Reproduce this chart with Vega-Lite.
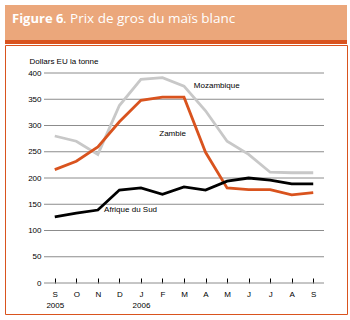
{
  "$schema": "https://vega.github.io/schema/vega-lite/v6.json",
  "padding": {"left": 4, "top": 5, "right": 4, "bottom": 7},
  "background": "white",
  "spacing": 0,
  "config": {"view": {"stroke": null}, "concat": {"spacing": 0}},
  "vconcat": [
    {
      "spacing": 0,
      "bounds": "flush",
      "hconcat": [
        {
          "width": 58, "height": 35,
          "view": {"fill": "#EBA77B", "stroke": null},
          "title": {"text": "Figure 6", "font": "Open Sans", "fontWeight": "bold", "fontSize": 13, "color": "white", "anchor": "start", "baseline": "alphabetic", "offset": -31, "dx": 7},
          "data": {"values": []},
          "mark": "rule",
          "encoding": {}
        },
        {
          "width": 284, "height": 35,
          "view": {"fill": "#EBA77B", "stroke": null},
          "title": {"text": ". Prix de gros du maïs blanc", "font": "Open Sans", "fontWeight": "normal", "fontSize": 13.5, "color": "white", "anchor": "start", "baseline": "alphabetic", "offset": -31, "dx": 0},
          "data": {"values": []},
          "mark": "rule",
          "encoding": {}
        }
      ]
    },
    {
      "width": 342, "height": 4,
      "view": {"fill": "#D9531E", "stroke": null},
      "data": {"values": []},
      "mark": "rule",
      "encoding": {}
    },
    {
      "width": 342, "height": 269,
      "view": {"stroke": "#D9531E", "strokeWidth": 1},
      "layer": [
        {
          "data": {"values": [{"g": 0}, {"g": 50}, {"g": 100}, {"g": 150}, {"g": 200}, {"g": 250}, {"g": 300}, {"g": 350}, {"g": 400}]},
          "mark": {"type": "rule", "color": "#8c8c8c", "strokeWidth": 1},
          "encoding": {
            "y": {"field": "g", "type": "quantitative", "scale": {"domain": [0, 400], "range": [238, 28], "nice": false, "zero": false}},
            "x": {"datum": -0.5, "type": "quantitative", "scale": {"domain": [-0.5, 12.5], "range": [39, 319], "nice": false, "zero": false}},
            "x2": {"datum": 12.5}
          }
        },
        {
          "data": {"values": [
            {"i": 0, "s": "Mozambique", "v": 280}, {"i": 1, "s": "Mozambique", "v": 270}, {"i": 2, "s": "Mozambique", "v": 245},
            {"i": 3, "s": "Mozambique", "v": 338}, {"i": 4, "s": "Mozambique", "v": 388}, {"i": 5, "s": "Mozambique", "v": 391},
            {"i": 6, "s": "Mozambique", "v": 375}, {"i": 7, "s": "Mozambique", "v": 328}, {"i": 8, "s": "Mozambique", "v": 270},
            {"i": 9, "s": "Mozambique", "v": 245}, {"i": 10, "s": "Mozambique", "v": 211}, {"i": 11, "s": "Mozambique", "v": 210},
            {"i": 12, "s": "Mozambique", "v": 210},
            {"i": 0, "s": "Zambie", "v": 216}, {"i": 1, "s": "Zambie", "v": 232}, {"i": 2, "s": "Zambie", "v": 259},
            {"i": 3, "s": "Zambie", "v": 307}, {"i": 4, "s": "Zambie", "v": 348}, {"i": 5, "s": "Zambie", "v": 354},
            {"i": 6, "s": "Zambie", "v": 354}, {"i": 7, "s": "Zambie", "v": 249}, {"i": 8, "s": "Zambie", "v": 181},
            {"i": 9, "s": "Zambie", "v": 178}, {"i": 10, "s": "Zambie", "v": 178}, {"i": 11, "s": "Zambie", "v": 168},
            {"i": 12, "s": "Zambie", "v": 172},
            {"i": 0, "s": "Afrique du Sud", "v": 126}, {"i": 1, "s": "Afrique du Sud", "v": 133}, {"i": 2, "s": "Afrique du Sud", "v": 139},
            {"i": 3, "s": "Afrique du Sud", "v": 177}, {"i": 4, "s": "Afrique du Sud", "v": 181}, {"i": 5, "s": "Afrique du Sud", "v": 169},
            {"i": 6, "s": "Afrique du Sud", "v": 183}, {"i": 7, "s": "Afrique du Sud", "v": 177}, {"i": 8, "s": "Afrique du Sud", "v": 194},
            {"i": 9, "s": "Afrique du Sud", "v": 200}, {"i": 10, "s": "Afrique du Sud", "v": 196}, {"i": 11, "s": "Afrique du Sud", "v": 189},
            {"i": 12, "s": "Afrique du Sud", "v": 189}
          ]},
          "mark": {"type": "line", "strokeWidth": 2.8, "strokeJoin": "miter"},
          "encoding": {
            "x": {
              "field": "i", "type": "quantitative",
              "scale": {"domain": [-0.5, 12.5], "range": [39, 319], "nice": false, "zero": false},
              "axis": {
                "orient": "bottom", "offset": -31, "values": [0, 1, 2, 3, 4, 5, 6, 7, 8, 9, 10, 11, 12], "tickCount": 50,
                "domain": false, "grid": false, "ticks": true, "tickColor": "black", "tickSize": -5, "tickWidth": 1,
                "labelPadding": 12, "labelFont": "Liberation Sans", "labelFontSize": 8, "labelColor": "black", "labelLineHeight": 11, "labelOverlap": false,
                "labelExpr": "datum.value == 0 ? ['S', '2005'] : datum.value == 4 ? ['J', '2006'] : ['S','O','N','D','J','F','M','A','M','J','J','A','S'][datum.value]",
                "title": null
              }
            },
            "y": {
              "field": "v", "type": "quantitative",
              "scale": {"domain": [0, 400], "range": [238, 28], "nice": false, "zero": false},
              "axis": {
                "orient": "left", "offset": -39, "values": [0, 50, 100, 150, 200, 250, 300, 350, 400], "tickCount": 50,
                "grid": false, "domain": false, "ticks": false, "labelPadding": 3, "labelOverlap": false,
                "labelFont": "Liberation Sans", "labelFontSize": 8, "labelColor": "black",
                "title": "Dollars EU la tonne", "titleFont": "Liberation Sans", "titleFontSize": 8, "titleFontWeight": "normal", "titleColor": "black",
                "titleAngle": 0, "titleAlign": "left", "titleBaseline": "alphabetic", "titleX": -15, "titleY": 18
              }
            },
            "color": {
              "field": "s", "type": "nominal",
              "scale": {"domain": ["Mozambique", "Zambie", "Afrique du Sud"], "range": ["#C8C8C8", "#D9531E", "#000000"]},
              "legend": null
            }
          }
        },
        {
          "data": {"values": [
            {"t": "Mozambique", "i": 7.52, "v": 375},
            {"t": "Zambie", "i": 5.47, "v": 284},
            {"t": "Afrique du Sud", "i": 3.52, "v": 140}
          ]},
          "mark": {"type": "text", "align": "center", "baseline": "middle", "font": "Liberation Sans", "fontSize": 8, "color": "black"},
          "encoding": {
            "x": {"field": "i", "type": "quantitative"},
            "y": {"field": "v", "type": "quantitative"},
            "text": {"field": "t"}
          }
        }
      ]
    }
  ]
}
